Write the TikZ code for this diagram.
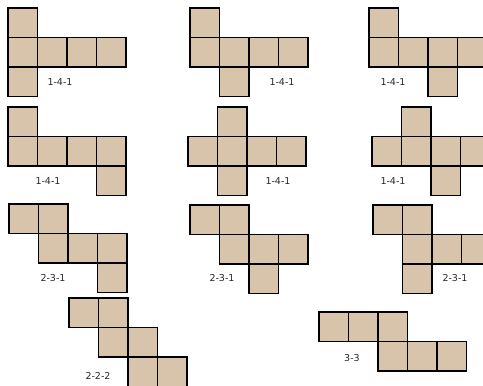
\documentclass[tikz,border=0pt]{standalone}
\usepackage{fontspec}
\newfontfamily\labelfont{DejaVu Sans}
\usepackage{tikz}
\definecolor{netfill}{RGB}{216,196,170}
\definecolor{netlabel}{RGB}{40,40,40}
\tikzset{cell/.style={fill=netfill,draw=black,line width=1.9pt,line join=miter},
 netname/.style={font=\labelfont\fontsize{9.5}{11}\selectfont,text=netlabel,inner sep=0pt}}
\newcommand{\cs}{29.5}

\begin{document}
\begin{tikzpicture}[x=1pt,y=-1pt]
\useasboundingbox (0,0) rectangle (483,386);
\clip (0,0) rectangle (483,386);
% 1-4-1 nets
\begin{scope}[shift={(8,8)}]
\foreach \c/\r in {0/0,0/1,1/1,2/1,3/1,0/2}
 \draw[cell] (\c*\cs,\r*\cs) rectangle ++(\cs,\cs);
\end{scope}
\begin{scope}[shift={(190,8)}]
\foreach \c/\r in {0/0,0/1,1/1,2/1,3/1,1/2}
 \draw[cell] (\c*\cs,\r*\cs) rectangle ++(\cs,\cs);
\end{scope}
\begin{scope}[shift={(369,8)}]
\foreach \c/\r in {0/0,0/1,1/1,2/1,3/1,2/2}
 \draw[cell] (\c*\cs,\r*\cs) rectangle ++(\cs,\cs);
\end{scope}
\begin{scope}[shift={(8,107)}]
\foreach \c/\r in {0/0,0/1,1/1,2/1,3/1,3/2}
 \draw[cell] (\c*\cs,\r*\cs) rectangle ++(\cs,\cs);
\end{scope}
\begin{scope}[shift={(188,107)}]
\foreach \c/\r in {1/0,0/1,1/1,2/1,3/1,1/2}
 \draw[cell] (\c*\cs,\r*\cs) rectangle ++(\cs,\cs);
\end{scope}
\begin{scope}[shift={(372,107)}]
\foreach \c/\r in {1/0,0/1,1/1,2/1,3/1,2/2}
 \draw[cell] (\c*\cs,\r*\cs) rectangle ++(\cs,\cs);
\end{scope}
% 2-3-1 nets
\begin{scope}[shift={(9,204)}]
\foreach \c/\r in {0/0,1/0,1/1,2/1,3/1,3/2}
 \draw[cell] (\c*\cs,\r*\cs) rectangle ++(\cs,\cs);
\end{scope}
\begin{scope}[shift={(190,205)}]
\foreach \c/\r in {0/0,1/0,1/1,2/1,3/1,2/2}
 \draw[cell] (\c*\cs,\r*\cs) rectangle ++(\cs,\cs);
\end{scope}
\begin{scope}[shift={(373,205)}]
\foreach \c/\r in {0/0,1/0,1/1,2/1,3/1,1/2}
 \draw[cell] (\c*\cs,\r*\cs) rectangle ++(\cs,\cs);
\end{scope}
% 2-2-2 and 3-3
\begin{scope}[shift={(69,298)}]
\foreach \c/\r in {0/0,1/0,1/1,2/1,2/2,3/2}
 \draw[cell] (\c*\cs,\r*\cs) rectangle ++(\cs,\cs);
\end{scope}
\begin{scope}[shift={(319,312)}]
\foreach \c/\r in {0/0,1/0,2/0,2/1,3/1,4/1}
 \draw[cell] (\c*\cs,\r*\cs) rectangle ++(\cs,\cs);
\end{scope}
% labels
\node[netname] (lbA) at (60,82) {1-4-1};
\node[netname] (lbB) at (282,82) {1-4-1};
\node[netname] (lbC) at (393,82) {1-4-1};
\node[netname] (lbD) at (48,181) {1-4-1};
\node[netname] (lbE) at (278,181) {1-4-1};
\node[netname] (lbF) at (393,181) {1-4-1};
\node[netname] (lbG) at (53,278) {2-3-1};
\node[netname] (lbH) at (222,278) {2-3-1};
\node[netname] (lbI) at (455,278) {2-3-1};
\node[netname] (lbJ) at (98,376) {2-2-2};
\node[netname] (lbK) at (352,358) {3-3};
\end{tikzpicture}
\end{document}
